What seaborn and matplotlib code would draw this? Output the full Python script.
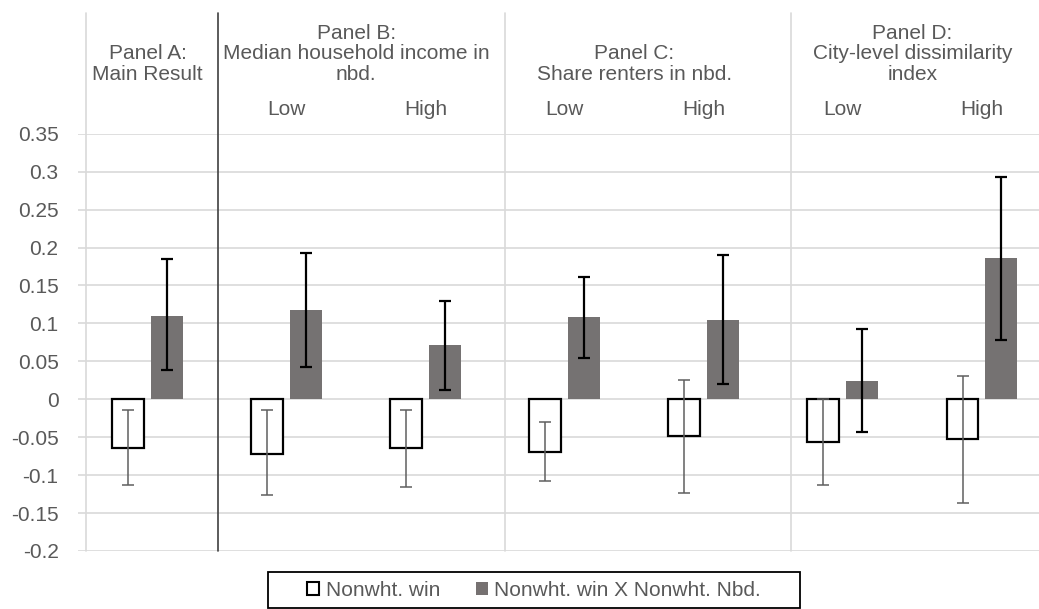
import numpy as np
import pandas as pd
import matplotlib
matplotlib.use("Agg")
import matplotlib.pyplot as plt
from matplotlib.patches import Patch, Rectangle
import seaborn as sns

# --- data ---
categories = ["Main", "B Low", "B High", "C Low", "C High", "D Low", "D High"]
series = ["Nonwht. win", "Nonwht. win X Nonwht. Nbd."]

win = [-0.064, -0.072, -0.064, -0.069, -0.048, -0.056, -0.053]
win_lo = [-0.113, -0.126, -0.115, -0.108, -0.124, -0.113, -0.137]
win_hi = [-0.014, -0.014, -0.014, -0.030, 0.026, 0.000, 0.030]

inter = [0.110, 0.118, 0.071, 0.108, 0.105, 0.024, 0.186]
inter_lo = [0.038, 0.043, 0.012, 0.054, 0.020, -0.043, 0.078]
inter_hi = [0.185, 0.193, 0.130, 0.161, 0.190, 0.093, 0.293]

sub_labels = ["", "Low", "High", "Low", "High", "Low", "High"]
panel_titles = [
    ["Panel A:", "Main Result"],
    ["Panel B:", "Median household income in", "nbd."],
    ["Panel C:", "Share renters in nbd."],
    ["Panel D:", "City-level dissimilarity", "index"],
]
panel_centers = [0, 1.5, 3.5, 5.5]
separators = [-0.44, 0.51, 2.57, 4.63]
y_ticks = [-0.2, -0.15, -0.1, -0.05, 0, 0.05, 0.1, 0.15, 0.2, 0.25, 0.3, 0.35]

TEXT = "#595959"
GRID = "#d9d9d9"
BAR_GRAY = "#767171"

sns.set_style("white")
plt.rcParams["font.family"] = ["Liberation Sans", "DejaVu Sans"]

df = pd.DataFrame({
    "category": categories * 2,
    "series": [series[0]] * len(categories) + [series[1]] * len(categories),
    "value": win + inter,
})

W, H = 1039, 609
fig = plt.figure(figsize=(W / 100, H / 100), dpi=100)
ax = fig.add_axes([78 / W, 58 / H, 961 / W, 417.3 / H])

sns.barplot(data=df, x="category", y="value", hue="series", order=categories,
            hue_order=series, palette=["white", BAR_GRAY], width=0.56, gap=0.18,
            errorbar=None, legend=False, ax=ax, zorder=3)

# style bars + error bars per series
err_specs = [
    (win, win_lo, win_hi, "#5f5f5f", 1.1),
    (inter, inter_lo, inter_hi, "black", 1.6),
]
for cont, (vals, lo, hi, ecol, elw) in zip(ax.containers, err_specs):
    xs = []
    for p in cont.patches:
        xs.append(p.get_x() + p.get_width() / 2)
        if ecol != "black":
            p.set_edgecolor("black")
            p.set_linewidth(1.6)
        else:
            p.set_linewidth(0)
    vals = np.array(vals)
    yerr = [vals - np.array(lo), np.array(hi) - vals]
    ax.errorbar(xs, vals, yerr=yerr, fmt="none", ecolor=ecol, elinewidth=elw,
                capsize=4, capthick=elw, zorder=4)

ax.set_ylim(-0.2, 0.35)
ax.set_xlim(-0.5, 6.41)
ax.set_yticks(y_ticks)
ax.set_yticklabels([f"{v:g}" for v in y_ticks])
ax.tick_params(axis="y", length=0, pad=14, labelsize=15, labelcolor=TEXT)
ax.set_xticks([])
ax.set_xlabel("")
ax.set_ylabel("")
ax.grid(axis="y", color=GRID, linewidth=1.2, zorder=0)
ax.set_axisbelow(True)
for s in ax.spines.values():
    s.set_visible(False)

# panel separators, extending above the plot area
trans = ax.get_xaxis_transform()
for i, sx in enumerate(separators):
    col = "#404040" if i == 1 else GRID
    ax.plot([sx, sx], [0, 1.29], color=col, lw=1.2, transform=trans,
            clip_on=False, zorder=5)

# headers
rows = [1.2461, 1.1958, 1.1478]
for cx, lines in zip(panel_centers, panel_titles):
    start = 3 - len(lines)
    for k, line in enumerate(lines):
        ax.text(cx, rows[start + k], line, transform=trans, ha="center",
                va="center_baseline", fontsize=15, color=TEXT)
for i, lab in enumerate(sub_labels):
    if lab:
        ax.text(i, 1.0616, lab, transform=trans, ha="center",
                va="center_baseline", fontsize=15, color=TEXT)

# legend
handles = [Patch(facecolor="white", edgecolor="black", linewidth=1.5),
           Patch(facecolor=BAR_GRAY, edgecolor="none")]
fig.legend(handles, series, loc="center", bbox_to_anchor=(534 / W, 1 - 590 / H),
           ncol=2, frameon=False, handlelength=0.6, handleheight=0.6,
           handletextpad=0.3, columnspacing=1.7, fontsize=15, labelcolor=TEXT)
fig.patches.append(Rectangle((268 / W, 1 - 608 / H), 532 / W, 36 / H,
                             transform=fig.transFigure, fill=False,
                             edgecolor="black", linewidth=1.3))

fig.savefig("out.png", dpi=100)
